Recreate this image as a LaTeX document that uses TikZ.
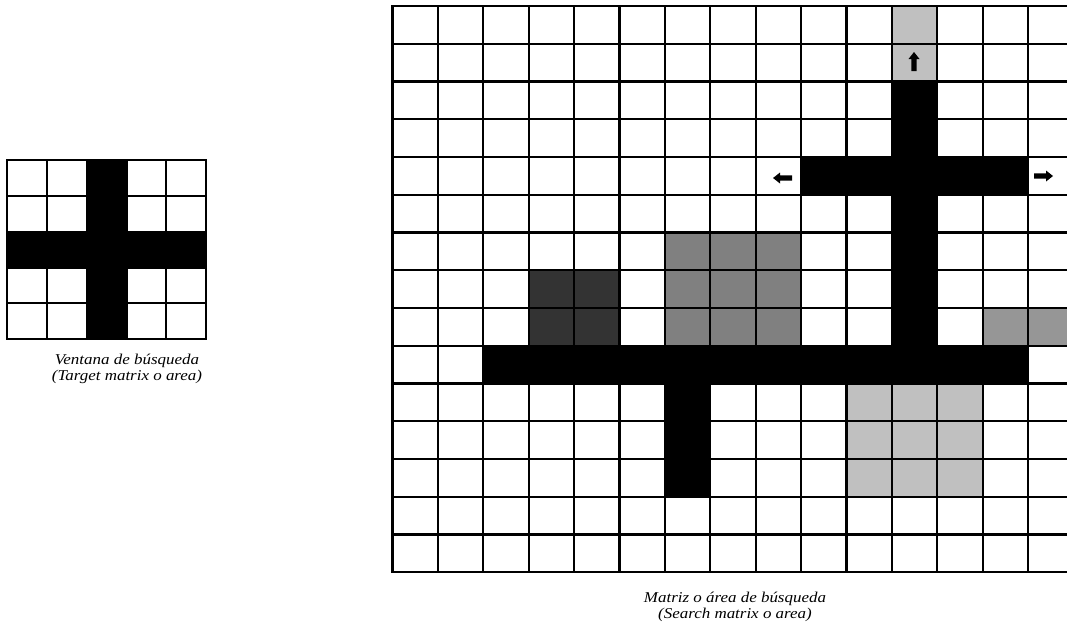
\documentclass[tikz,border=0pt]{standalone}
\usepackage{fontspec}
\setmainfont{Liberation Serif}
\usepackage{graphicx}
\definecolor{lightgr}{HTML}{C0C0C0}
\definecolor{midgr}{HTML}{808080}
\definecolor{darkgr}{HTML}{333333}
\definecolor{softgr}{HTML}{969696}
\begin{document}
\begin{tikzpicture}[x=1pt,y=-1pt,
  gridline/.style={line width=2.1pt, black, line cap=rect},
  lbl/.style={font=\fontsize{15}{16.5}\selectfont\itshape, align=center, inner sep=0pt},
  blkarrow/.pic={\fill[black] (0,0) -- (7,-5.5) -- (7,-2.6) -- (19,-2.6) -- (19,2.6) -- (7,2.6) -- (7,5.5) -- cycle;}]
\useasboundingbox (0,0) rectangle (1067,625);
% ---------- target window (small grid) ----------
\begin{scope}[shift={(7.3,160)}, x=39.74pt, y=-35.86pt]
  \fill[black] (2,0) rectangle (3,5);
  \fill[black] (0,2) rectangle (5,3);
  \foreach \i in {0,...,5} \draw[gridline] (\i,0) -- (\i,5);
  \foreach \j in {0,...,5} \draw[gridline] (0,\j) -- (5,\j);
\end{scope}
\node[lbl] (targetlbl) at (127,369) {\scalebox{1.13}[1]{Ventana de búsqueda}\\\scalebox{1.13}[1]{(Target matrix o area)}};
% ---------- search matrix (big grid) ----------
\begin{scope}
  \clip (380,0) rectangle (1067,580);
  \begin{scope}[shift={(392.5,6)}, x=45.4pt, y=-37.75pt]
    \fill[lightgr] (11,0) rectangle (12,2);
    \fill[lightgr] (10,10) rectangle (13,13);
    \fill[midgr] (6,6) rectangle (9,9);
    \fill[darkgr] (3,7) rectangle (5,9);
    \fill[softgr] (13,8) rectangle (15,9);
    \fill[black] (11,2) rectangle (12,9);
    \fill[black] (9,4) rectangle (14,5);
    \fill[black] (2,9) rectangle (14,10);
    \fill[black] (6,10) rectangle (7,13);
    \foreach \i in {0,...,15} \draw[gridline] (\i,0) -- (\i,15);
    \foreach \j in {0,...,15} \draw[gridline] (0,\j) -- (15,\j);
  \end{scope}
\end{scope}
% direction arrows
\pic at (773,178) {blkarrow};
\pic[rotate=180] at (1053,176) {blkarrow};
\pic[rotate=-90] at (914,52) {blkarrow};
\node[lbl] (searchlbl) at (735,607) {\scalebox{1.13}[1]{Matriz o área de búsqueda}\\\scalebox{1.13}[1]{(Search matrix o area)}};
\end{tikzpicture}
\end{document}
